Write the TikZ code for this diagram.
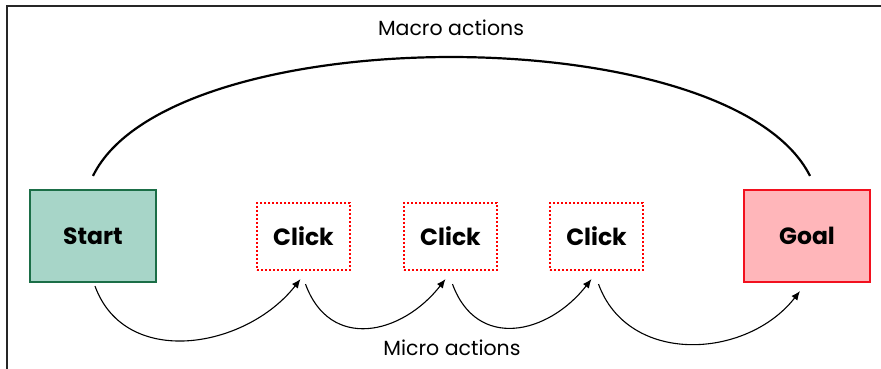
\documentclass[tikz,border=0pt]{standalone}
\usepackage{fontspec}
\setmainfont{Poppins}
\usepackage{tikz}
\usetikzlibrary{arrows.meta,positioning,calc}
\definecolor{startfill}{HTML}{A7D5C8}
\definecolor{startline}{HTML}{1B6E47}
\definecolor{goalfill}{HTML}{FFB6BA}
\definecolor{goalline}{HTML}{F2101E}

\begin{document}
\begin{tikzpicture}[x=1pt,y=1pt,
	endbox/.style={draw,line width=2.2pt,minimum width=126pt,minimum height=92pt,font=\fontsize{23.5}{25}\selectfont\bfseries},
	clickbox/.style={draw=red,line width=2.2pt,dash pattern=on 2.2pt off 1.8pt,fill=white,minimum width=93pt,minimum height=67pt,font=\fontsize{23.5}{25}\selectfont\bfseries},
	micro/.style={-{Latex[length=9pt,width=7.5pt]},line width=1.1pt},
	lbl/.style={font=\fontsize{20.5}{22}\selectfont}]
	\useasboundingbox (0,0) rectangle (881,369);
	\draw[line width=1.3pt,black!85] (881,363) -- (7,363) -- (7,0);
	\node[endbox,draw=startline,fill=startfill] (start) at (93,133) {Start};
	\node[clickbox] (c1) at (303.5,132.5) {Click};
	\node[clickbox] (c2) at (450.5,132.5) {Click};
	\node[clickbox] (c3) at (596.5,132.5) {Click};
	\node[endbox,draw=goalline,fill=goalfill] (goal) at (807,133) {Goal};
	\node[lbl] (macro) at (451,341) {Macro actions};
	\node[lbl] (micro) at (452,21) {Micro actions};
	\draw[line width=2.2pt] ($(start.north)+(0,13)$) .. controls +(77,158) and +(-80,159) .. ($(goal.north)+(3,13)$);
	\draw[micro] ($(start.south)+(2,-3)$) to[out=-70,in=-128,looseness=1.1] ($(c1.south)+(-3,-8)$);
	\draw[micro] ($(c1.south)+(2,-13)$) to[out=-70,in=-128,looseness=1.3] ($(c2.south)+(-5,-8)$);
	\draw[micro] ($(c2.south)+(2,-13)$) to[out=-70,in=-128,looseness=1.3] ($(c3.south)+(-5,-8)$);
	\draw[micro] ($(c3.south)+(2,-13)$) to[out=-70,in=-128,looseness=1.1] ($(goal.south)+(-7,-8)$);
\end{tikzpicture}
\end{document}
